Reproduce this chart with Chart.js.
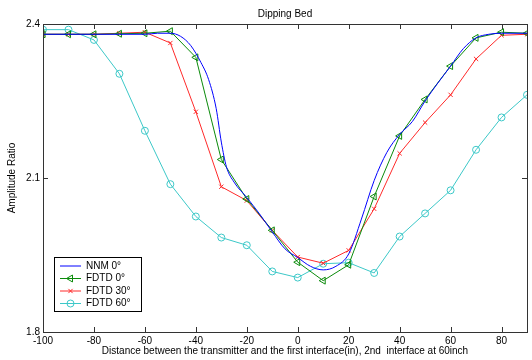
<!DOCTYPE html>
<html lang="en">
<head>
    <meta charset="UTF-8">
    <title>Dipping Bed</title>
    <style>
        html, body { margin: 0; padding: 0; background: #fff; }
        #chart { display: block; }
    </style>
    <script src="https://cdn.jsdelivr.net/npm/chart.js"></script>
</head>
<body>
<canvas id="chart" width="532" height="360"></canvas>
<script>
    // Distance positions (in) for the FDTD runs
    const xPos = [-100, -90, -80, -70, -60, -50, -40, -30, -20, -10, 0, 10, 20, 30, 40, 50, 60, 70, 80, 90];
    const fdtd0 = [2.380, 2.380, 2.380, 2.381, 2.382, 2.386, 2.335, 2.136, 2.059, 1.998, 1.936, 1.900, 1.931, 2.064, 2.182, 2.253, 2.318, 2.373, 2.384, 2.382];
    const fdtd30 = [2.380, 2.380, 2.380, 2.382, 2.384, 2.363, 2.229, 2.083, 2.056, 1.998, 1.946, 1.934, 1.959, 2.040, 2.148, 2.208, 2.262, 2.332, 2.378, 2.380];
    const fdtd60 = [2.389, 2.389, 2.369, 2.303, 2.192, 2.088, 2.025, 1.984, 1.969, 1.918, 1.906, 1.933, 1.935, 1.915, 1.986, 2.031, 2.076, 2.155, 2.218, 2.262];

    // NNM curve (smooth, no markers)
    const nnmX = [-100, -90, -80, -70, -60, -55, -50, -46, -42, -38, -35, -32, -30, -28, -25, -20, -15, -10, -5, 0, 5, 10, 15, 20, 25, 30, 35, 40, 45, 50, 55, 60, 65, 70, 75, 80, 90];
    const nnm0 = [2.380, 2.380, 2.380, 2.380, 2.380, 2.382, 2.382, 2.376, 2.358, 2.325, 2.292, 2.235, 2.170, 2.122, 2.092, 2.062, 2.030, 1.995, 1.962, 1.945, 1.928, 1.921, 1.928, 1.952, 2.020, 2.095, 2.150, 2.185, 2.210, 2.250, 2.285, 2.318, 2.352, 2.373, 2.380, 2.382, 2.382];

    const xTicks = [-100, -80, -60, -40, -20, 0, 20, 40, 60, 80];
    const yTicks = [1.8, 2.1, 2.4];

    const seriesNames = ['NNM 0°', 'FDTD 0°', 'FDTD 30°', 'FDTD 60°'];

    const font = { family: 'Liberation Sans, Arial, sans-serif', size: 10 };

    function pts(xs, ys) {
        return xs.map((x, i) => ({ x: x, y: ys[i] }));
    }

    // Box, inward ticks, title and legend in the MATLAB style
    const matlabStyle = {
        id: 'matlabStyle',
        afterDraw(chart) {
            const ctx = chart.ctx;
            const a = chart.chartArea;
            const xs = chart.scales.x, ys = chart.scales.y;
            ctx.save();
            ctx.strokeStyle = '#333';
            ctx.lineWidth = 1;
            ctx.strokeRect(a.left + 0.5, a.top + 0.5, a.right - a.left, a.bottom - a.top);
            ctx.beginPath();
            xTicks.forEach(v => {
                const px = Math.round(xs.getPixelForValue(v)) + 0.5;
                ctx.moveTo(px, a.bottom); ctx.lineTo(px, a.bottom - 5);
                ctx.moveTo(px, a.top); ctx.lineTo(px, a.top + 5);
            });
            yTicks.forEach(v => {
                const py = Math.round(ys.getPixelForValue(v)) + 0.5;
                ctx.moveTo(a.left, py); ctx.lineTo(a.left + 5, py);
                ctx.moveTo(a.right, py); ctx.lineTo(a.right - 5, py);
            });
            ctx.stroke();

            // title
            ctx.fillStyle = '#000';
            ctx.font = '10px ' + font.family;
            ctx.textAlign = 'center';
            ctx.textBaseline = 'middle';
            ctx.fillText('Dipping Bed', (a.left + a.right) / 2, 14);

            // legend
            const bx = 54, by = 257, bw = 87, bh = 54;
            ctx.fillStyle = '#fff';
            ctx.fillRect(bx, by, bw, bh);
            ctx.strokeStyle = '#000';
            ctx.strokeRect(bx + 0.5, by + 0.5, bw, bh);
            chart.data.datasets.forEach((ds, i) => {
                const yy = by + 9 + i * 12.5;
                ctx.strokeStyle = ds.borderColor;
                ctx.lineWidth = 1;
                ctx.beginPath();
                ctx.moveTo(bx + 6, yy); ctx.lineTo(bx + 27, yy);
                ctx.stroke();
                if (ds.pointRadius > 0) {
                    ctx.fillStyle = 'rgba(0,0,0,0)';
                    Chart.helpers.drawPoint(ctx, {
                        pointStyle: ds.pointStyle,
                        radius: ds.pointRadius,
                        rotation: ds.pointRotation || 0,
                        borderWidth: 1
                    }, bx + 16.5, yy);
                }
                ctx.fillStyle = '#000';
                ctx.textAlign = 'left';
                ctx.fillText(ds.label, bx + 32, yy);
            });
            ctx.restore();
        }
    };

    new Chart(document.getElementById('chart'), {
        type: 'line',
        data: {
            datasets: [
                {
                    label: seriesNames[0],
                    data: pts(nnmX, nnm0),
                    borderColor: '#0000ff',
                    borderWidth: 1,
                    pointRadius: 0,
                    cubicInterpolationMode: 'monotone'
                },
                {
                    label: seriesNames[1],
                    data: pts(xPos, fdtd0),
                    borderColor: '#0a8a0a',
                    borderWidth: 1,
                    pointStyle: 'triangle',
                    pointRotation: -90,
                    pointRadius: 4,
                    pointBorderWidth: 1,
                    pointBackgroundColor: 'rgba(0,0,0,0)'
                },
                {
                    label: seriesNames[2],
                    data: pts(xPos, fdtd30),
                    borderColor: '#ff2a2a',
                    borderWidth: 1,
                    pointStyle: 'crossRot',
                    pointRadius: 3,
                    pointBorderWidth: 1
                },
                {
                    label: seriesNames[3],
                    data: pts(xPos, fdtd60),
                    borderColor: '#3cc8c8',
                    borderWidth: 1,
                    pointStyle: 'circle',
                    pointRadius: 3.5,
                    pointBorderWidth: 1,
                    pointBackgroundColor: 'rgba(0,0,0,0)'
                }
            ]
        },
        options: {
            responsive: false,
            animation: false,
            layout: { padding: { top: 24, right: 4, left: 0, bottom: 0 } },
            plugins: {
                legend: { display: false },
                title: { display: false },
                tooltip: { enabled: false }
            },
            scales: {
                x: {
                    type: 'linear',
                    min: -100,
                    max: 90,
                    afterFit(s) { s.height = 28; },
                    afterBuildTicks(s) { s.ticks = xTicks.map(v => ({ value: v })); },
                    ticks: { color: '#000', font: font, padding: 3, maxRotation: 0, autoSkip: false },
                    grid: { display: false, drawTicks: false },
                    border: { display: false },
                    title: {
                        display: true,
                        text: 'Distance between the transmitter and the first interface(in), 2nd  interface at 60inch',
                        color: '#000',
                        font: font,
                        padding: { top: 0, bottom: 3 }
                    }
                },
                y: {
                    min: 1.8,
                    max: 2.4,
                    afterFit(s) { s.width = 43; },
                    afterBuildTicks(s) { s.ticks = yTicks.map(v => ({ value: v })); },
                    ticks: { color: '#000', font: font, padding: 3, callback: v => v.toFixed(1) },
                    grid: { display: false, drawTicks: false },
                    border: { display: false },
                    title: {
                        display: true,
                        text: 'Amplitude Ratio',
                        color: '#000',
                        font: font,
                        padding: { top: 6, bottom: 0 }
                    }
                }
            }
        },
        plugins: [matlabStyle]
    });
</script>
</body>
</html>
